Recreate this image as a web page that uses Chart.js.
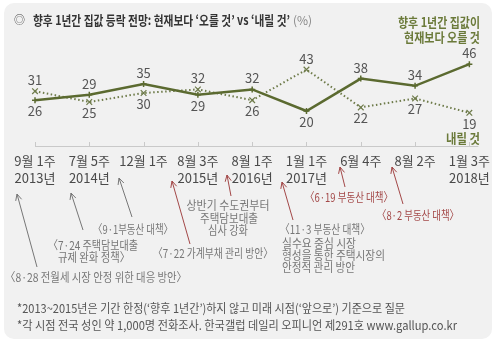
<!DOCTYPE html>
<html>
<head>
<meta charset="utf-8">
<script src="https://cdn.jsdelivr.net/npm/chart.js@4.4.0/dist/chart.umd.min.js"></script>
<style>
  body { margin: 0; background: #fff; }
  #wrap { width: 496px; height: 342px; position: relative; }
</style>
</head>
<body>
<div id="wrap"><canvas id="houseChart"></canvas></div>
<script>
// survey weeks (tick labels, two lines where a year is shown)
const weeks = ['9월 1주', '7월 5주', '12월 1주', '8월 3주', '8월 1주', '1월 1주', '6월 4주', '8월 2주', '1월 3주'];
const years = ['2013년', '2014년', '', '2015년', '2016년', '2017년', '', '', '2018년'];

// % who expect house prices to rise / fall over the next year
const riseValues = [26, 29, 35, 29, 32, 20, 38, 34, 46];
const fallValues = [31, 25, 30, 32, 26, 43, 22, 27, 19];

const FONT = '"Noto Sans CJK KR", "Noto Sans", sans-serif';
const OLIVE = '#5b6a30';
const OLIVE_TEXT = '#6b7a3a';
const GRAY = '#777';
const RED = '#a34848';

// value label side for each point
const riseLabelSide = ['below', 'above', 'above', 'below', 'above', 'below', 'above', 'above', 'above'];
const fallLabelSide = ['above', 'below', 'below', 'above', 'below', 'above', 'below', 'below', 'below'];

const labels = weeks.map((w, i) => years[i] ? [w, years[i]] : w);

function txt(ctx, s, x, y, o) {
    o = o || {};
    ctx.save();
    ctx.font = (o.weight || 'normal') + ' ' + (o.size || 12) + 'px ' + FONT;
    ctx.fillStyle = o.color || '#555';
    ctx.textAlign = o.align || 'left';
    ctx.textBaseline = 'middle';
    if (o.maxWidth) {
        ctx.fillText(s, x, y, o.maxWidth);
    } else {
        ctx.fillText(s, x, y);
    }
    ctx.restore();
}

function arrow(ctx, x1, y1, x2, y2, color) {
    // line from (x1,y1) to the head at (x2,y2)
    const a = Math.atan2(y2 - y1, x2 - x1);
    const len = 7, spread = 0.45;
    ctx.save();
    ctx.strokeStyle = color;
    ctx.lineWidth = 1;
    ctx.beginPath();
    ctx.moveTo(x1, y1);
    ctx.lineTo(x2, y2);
    ctx.moveTo(x2 - len * Math.cos(a - spread), y2 - len * Math.sin(a - spread));
    ctx.lineTo(x2, y2);
    ctx.lineTo(x2 - len * Math.cos(a + spread), y2 - len * Math.sin(a + spread));
    ctx.stroke();
    ctx.restore();
}

// gray card behind everything
const cardBackground = {
    id: 'cardBackground',
    beforeDraw(chart) {
        const ctx = chart.ctx;
        ctx.save();
        ctx.fillStyle = '#f1f1f1';
        ctx.beginPath();
        ctx.roundRect(4, 3, 488, 336, 10);
        ctx.fill();
        ctx.restore();
    }
};

// baseline with small upward ticks
const baseline = {
    id: 'baseline',
    beforeDatasetsDraw(chart) {
        const ctx = chart.ctx;
        const xs = chart.scales.x;
        const y = chart.scales.y.getPixelForValue(0);
        ctx.save();
        ctx.strokeStyle = '#c9c9c9';
        ctx.lineWidth = 1;
        ctx.beginPath();
        ctx.moveTo(xs.getPixelForValue(0), y - 0.5);
        ctx.lineTo(xs.getPixelForValue(weeks.length - 1) + 9, y - 0.5);
        for (let i = 0; i < weeks.length; i++) {
            const x = Math.round(xs.getPixelForValue(i)) + 0.5;
            ctx.moveTo(x, y);
            ctx.lineTo(x, y - 5);
        }
        ctx.stroke();
        ctx.restore();
    }
};

// numbers next to each point
const valueLabels = {
    id: 'valueLabels',
    afterDatasetsDraw(chart) {
        const ctx = chart.ctx;
        chart.data.datasets.forEach((ds, di) => {
            const meta = chart.getDatasetMeta(di);
            const sides = di === 0 ? riseLabelSide : fallLabelSide;
            meta.data.forEach((pt, i) => {
                const dy = sides[i] === 'above' ? -11 : 11;
                txt(ctx, String(ds.data[i]), pt.x, pt.y + dy, { align: 'center', size: 13, color: '#555' });
            });
        });
    }
};

// title, series names, policy notes and footnotes
const notes = {
    id: 'notes',
    afterDraw(chart) {
        const ctx = chart.ctx;

        txt(ctx, '◎', 14, 20, { size: 11, color: '#444' });
        txt(ctx, '향후 1년간 집값 등락 전망: 현재보다 ‘오를 것’ vs ‘내릴 것’', 33, 20,
            { size: 13, weight: 'bold', color: '#333', maxWidth: 257 });
        txt(ctx, '(%)', 293, 20, { size: 12, color: '#888' });

        txt(ctx, '향후 1년간 집값이', 480, 22, { align: 'right', size: 13, weight: 'bold', color: OLIVE_TEXT, maxWidth: 82 });
        txt(ctx, '현재보다 오를 것', 480, 37, { align: 'right', size: 13, weight: 'bold', color: OLIVE_TEXT, maxWidth: 76 });
        txt(ctx, '내릴 것', 480, 138, { align: 'right', size: 13, weight: 'bold', color: OLIVE_TEXT, maxWidth: 34 });

        // gray policy notes
        arrow(ctx, 37, 267, 17, 194, GRAY);
        txt(ctx, '〈8·28 전월세 시장 안정 위한 대응 방안〉', 96, 277, { align: 'center', color: GRAY, maxWidth: 182 });
        arrow(ctx, 83, 230, 71, 193, GRAY);
        txt(ctx, '〈7·24 주택담보대출', 93, 245, { align: 'center', color: GRAY, maxWidth: 90 });
        txt(ctx, '규제 완화 정책〉', 94, 257, { align: 'center', color: GRAY, maxWidth: 72 });
        arrow(ctx, 132, 217, 119, 178, GRAY);
        txt(ctx, '〈9·1부동산 대책〉', 133, 229, { align: 'center', color: GRAY, maxWidth: 80 });

        // notes with red arrows
        arrow(ctx, 190, 244, 172, 181, RED);
        txt(ctx, '〈7·22 가계부채 관리 방안〉', 213, 253, { align: 'center', color: GRAY, maxWidth: 120 });
        arrow(ctx, 231, 196, 227, 175, RED);
        txt(ctx, '상반기 수도권부터', 228, 205, { align: 'center', color: GRAY, maxWidth: 83 });
        txt(ctx, '주택담보대출', 229, 218, { align: 'center', color: GRAY, maxWidth: 58 });
        txt(ctx, '심사 강화', 228, 230, { align: 'center', color: GRAY, maxWidth: 40 });
        arrow(ctx, 293, 220, 282, 182, RED);
        txt(ctx, '〈11·3 부동산 대책〉', 280, 229, { color: GRAY, maxWidth: 90 });
        txt(ctx, '실수요 중심 시장', 282, 243, { color: GRAY, maxWidth: 74 });
        txt(ctx, '형성을 통한 주택시장의', 282, 255, { color: GRAY, maxWidth: 103 });
        txt(ctx, '안정적 관리 방안', 282, 267, { color: GRAY, maxWidth: 73 });
        arrow(ctx, 345, 187, 340, 167, RED);
        txt(ctx, '〈6·19 부동산 대책〉', 349, 197, { align: 'center', color: RED, maxWidth: 88 });
        arrow(ctx, 403, 204, 392, 167, RED);
        txt(ctx, '〈8·2 부동산 대책〉', 418, 215, { align: 'center', color: RED, maxWidth: 82 });

        txt(ctx, '*2013~2015년은 기간 한정(‘향후 1년간’)하지 않고 미래 시점(‘앞으로’) 기준으로 질문', 17, 308,
            { color: '#555', maxWidth: 388 });
        txt(ctx, '*각 시점 전국 성인 약 1,000명 전화조사. 한국갤럽 데일리 오피니언 제291호 www.gallup.co.kr', 17, 325,
            { color: '#555', maxWidth: 440 });
    }
};

const ctx = document.getElementById('houseChart').getContext('2d');
new Chart(ctx, {
    type: 'line',
    data: {
        labels: labels,
        datasets: [{
            label: '오를 것',
            data: riseValues,
            borderColor: OLIVE,
            borderWidth: 2.5,
            pointStyle: 'cross',
            pointRadius: 3,
            pointBorderWidth: 1.5,
            pointBorderColor: OLIVE,
            tension: 0
        }, {
            label: '내릴 것',
            data: fallValues,
            borderColor: '#6e7b4a',
            borderWidth: 2,
            borderDash: [1.5, 2.5],
            pointStyle: 'crossRot',
            pointRadius: 4,
            pointBorderWidth: 1.2,
            pointBorderColor: '#6e7b4a',
            tension: 0
        }]
    },
    options: {
        responsive: true,
        maintainAspectRatio: false,
        animation: { duration: 0 },
        layout: { padding: { left: 35, right: 25, top: 39, bottom: 0 } },
        plugins: {
            legend: { display: false },
            tooltip: { enabled: false }
        },
        scales: {
            y: { display: false, min: 0, max: 60 },
            x: {
                offset: false,
                grid: { display: false, drawTicks: false },
                border: { display: false },
                ticks: {
                    autoSkip: false,
                    maxRotation: 0,
                    padding: 6,
                    color: '#4a4a4a',
                    font: { family: FONT, size: 13, lineHeight: 1.3 }
                },
                afterFit(scale) { scale.height = 195; }
            }
        }
    },
    plugins: [cardBackground, baseline, valueLabels, notes]
});
</script>
</body>
</html>
